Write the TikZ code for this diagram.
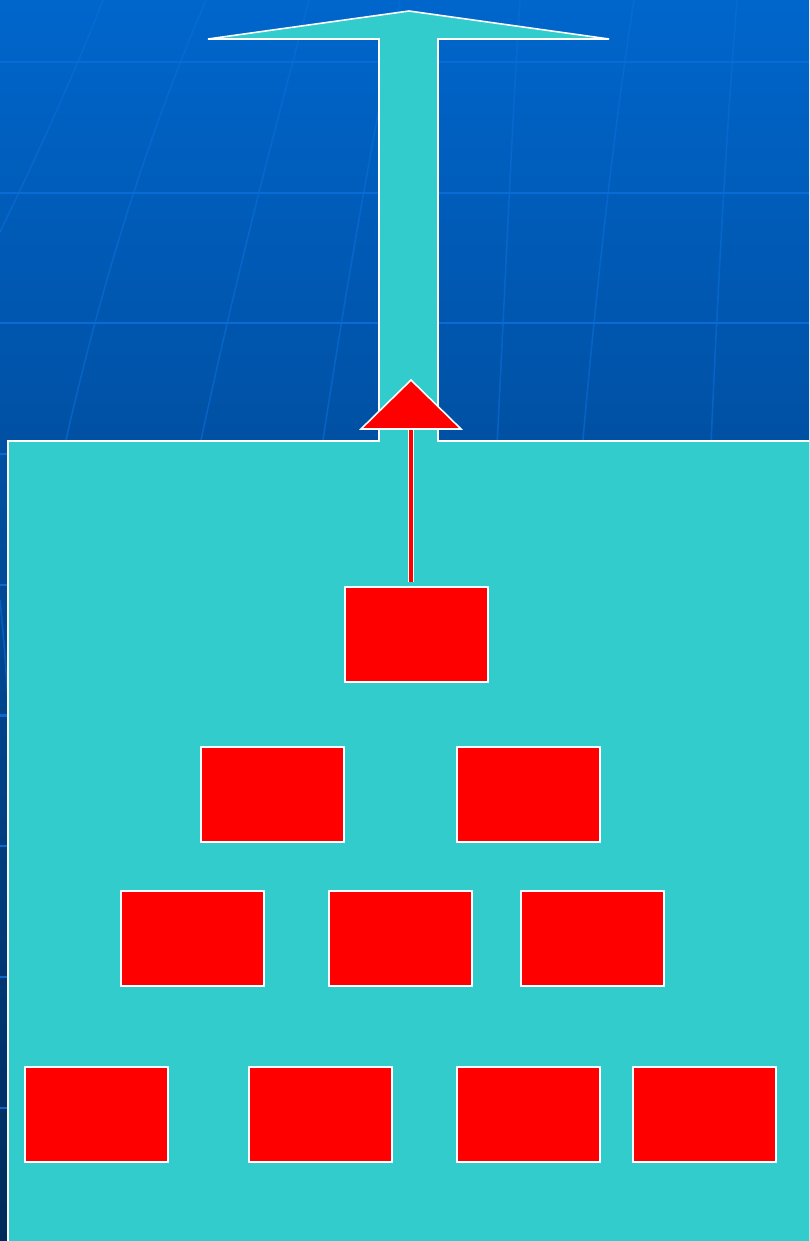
\documentclass[tikz,border=0pt]{standalone}
\usetikzlibrary{arrows.meta, positioning, calc}
\definecolor{cteal}{HTML}{33CCCC}
\definecolor{cred}{HTML}{FF0000}
\definecolor{ctop}{HTML}{0066CC}
\definecolor{cbot}{HTML}{002A5A}
\definecolor{cgrid}{HTML}{0A6ED8}
\tikzset{
  every picture/.style={x=0.02cm, y=-0.02cm},
  box/.style={draw=white, fill=cred, line width=1.1pt, minimum width=2.86cm, minimum height=1.9cm, inner sep=0pt},
  gridline/.style={draw=cgrid, line width=1.2pt, opacity=0.9},
  curveline/.style={draw=cgrid, line width=0.9pt, opacity=0.6},
  bigarrow/.style={draw=white, fill=cteal, line width=0.9pt, line join=miter},
  shaft/.style={draw=white, double=cred, double distance=0.07cm, line width=0.9pt},
  head/.style={draw=white, fill=cred, line width=0.9pt, line join=miter},
}

\begin{document}
\begin{tikzpicture}
  \useasboundingbox (0,0) rectangle (809,1241);
  \clip (0,0) rectangle (809,1241);
  % background
  \shade[top color=ctop, bottom color=cbot] (0,0) rectangle (809,1241);
  \foreach \y in {62,192.7,323.4,454,584.8,715.5,846.2,977,1107.6}
    \draw[gridline] (0,\y) -- (809,\y);
  \draw[curveline] (0,232) .. controls (40,150) and (80,60) .. (103,0);
  \draw[curveline] (10,760) .. controls (50,450) and (120,200) .. (206,0);
  \draw[curveline] (140,760) .. controls (200,400) and (270,150) .. (309,0);
  \draw[curveline] (280,760) .. controls (320,420) and (370,150) .. (400,0);
  \draw[curveline] (480,760) .. controls (500,420) and (510,150) .. (520,0);
  \draw[curveline] (560,760) .. controls (580,400) and (615,120) .. (634,0);
  \draw[curveline] (700,760) .. controls (710,400) and (725,150) .. (737,0);
  \draw[curveline] (0,600) .. controls (8,680) and (12,760) .. (14,860);
  % teal block with arrow
  \draw[bigarrow] (8,1260) -- (8,441) -- (379,441) -- (379,39) -- (208,39) -- (409,11)
    -- (609,39) -- (438,39) -- (438,441) -- (830,441) -- (830,1260) -- cycle;
  % boxes
  \node[box] (top) at (416.5,634.5) {};
  \node[box] (l2a) at (272.5,794.5) {};
  \node[box] (l2b) at (528.5,794.5) {};
  \node[box] (l3a) at (192.5,938.5) {};
  \node[box] (l3b) at (400.5,938.5) {};
  \node[box] (l3c) at (592.5,938.5) {};
  \node[box] (l4a) at (96.5,1114.5) {};
  \node[box] (l4b) at (320.5,1114.5) {};
  \node[box] (l4c) at (528.5,1114.5) {};
  \node[box] (l4d) at (704.5,1114.5) {};
  % red arrow
  \coordinate (tip) at (411,380);
  \coordinate (base) at (411,429);
  \draw[shaft] ($(top.north -| base)+(0,-4)$) -- (base);
  \draw[head] (tip) -- ($(base)+(-50,0)$) -- ($(base)+(50,0)$) -- cycle;
\end{tikzpicture}
\end{document}
